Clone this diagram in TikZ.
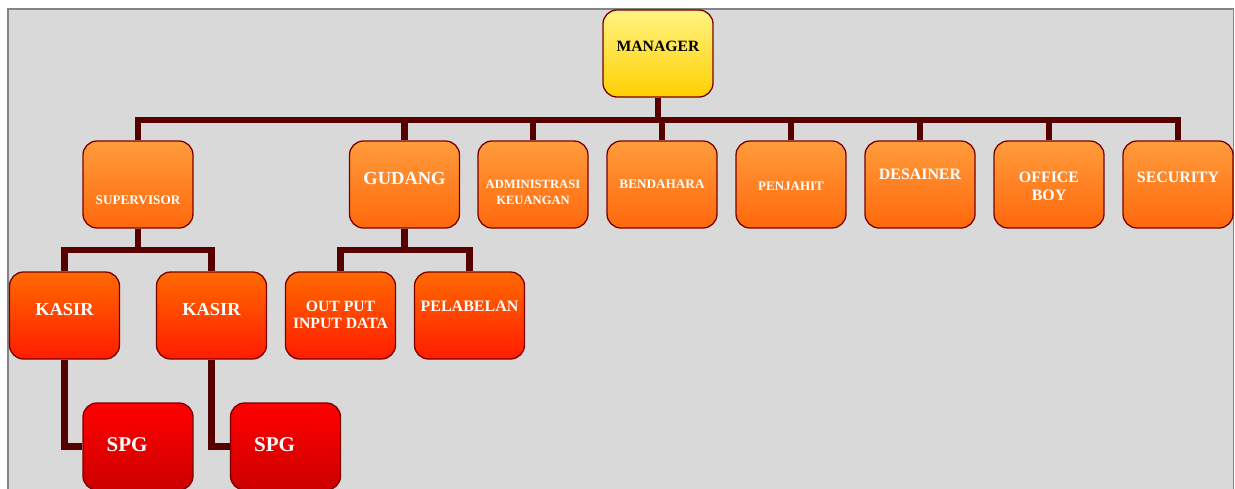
\documentclass[tikz,border=0pt]{standalone}
\usepackage{fontspec}
\setmainfont{Liberation Serif}

\definecolor{pageGray}{HTML}{D9D9D9}
\definecolor{frameGray}{HTML}{858585}
\definecolor{rimRed}{HTML}{7A0000}
\definecolor{linkRed}{HTML}{560000}
\definecolor{mgrTop}{HTML}{FFF383}
\definecolor{mgrBot}{HTML}{FFD000}
\definecolor{divTop}{HTML}{FF9C3C}
\definecolor{divBot}{HTML}{FF680C}
\definecolor{subTop}{HTML}{FF6A00}
\definecolor{subBot}{HTML}{FF1C00}
\definecolor{spgTop}{HTML}{FF0000}
\definecolor{spgBot}{HTML}{CC0000}

\newcommand{\txtsz}[2]{\fontsize{#1}{#2}\selectfont\bfseries}

\tikzset{
  unit/.style={draw=rimRed, line width=1.3pt, rounded corners=14pt,
    minimum width=110pt, minimum height=87pt, inner sep=0pt},
  mgrbox/.style={unit, top color=mgrTop, bottom color=mgrBot},
  divbox/.style={unit, top color=divTop, bottom color=divBot},
  subbox/.style={unit, top color=subTop, bottom color=subBot},
  spgbox/.style={unit, top color=spgTop, bottom color=spgBot},
  lbl/.style={text=white, align=center, inner sep=0pt},
  link/.style={draw=linkRed, line width=6.5pt},
}

\begin{document}
\begin{tikzpicture}[x=1pt,y=-1pt]
  \useasboundingbox (0,0) rectangle (1235,488);
  \draw[fill=pageGray, draw=frameGray, line width=1.5pt] (8,9) rectangle (1233.5,492);

  % boxes
  \node[mgrbox] (mgr) at (658,53.5) {};
  \node[divbox] (sup) at (138,184.5) {};
  \node[divbox] (gud) at (404.5,184.5) {};
  \node[divbox] (adm) at (533,184.5) {};
  \node[divbox] (ben) at (662,184.5) {};
  \node[divbox] (pen) at (791,184.5) {};
  \node[divbox] (des) at (920,184.5) {};
  \node[divbox] (off) at (1049,184.5) {};
  \node[divbox] (sec) at (1178,184.5) {};
  \node[subbox] (kasA) at (64.5,315.5) {};
  \node[subbox] (kasB) at (211.5,315.5) {};
  \node[subbox] (out) at (340.5,315.5) {};
  \node[subbox] (pel) at (469.5,315.5) {};
  \node[spgbox] (spgA) at (138,446.5) {};
  \node[spgbox] (spgB) at (285.5,446.5) {};

  % connectors
  \coordinate (bus) at (658,120);
  \coordinate (supBus) at (138,250);
  \coordinate (gudBus) at (404.5,250);
  \draw[link] (mgr.south) -- (bus);
  \draw[link] (sup.north) |- (bus) -| (sec.north);
  \foreach \n in {gud,adm,ben,pen,des,off}
    \draw[link] (\n.north) -- (\n.north |- bus);
  \draw[link] (sup.south) -- (supBus);
  \draw[link] (kasA.north) |- (supBus) -| (kasB.north);
  \draw[link] (gud.south) -- (gudBus);
  \draw[link] (out.north) |- (gudBus) -| (pel.north);
  \draw[link] (kasA.south) |- (spgA.west);
  \draw[link] (kasB.south) |- (spgB.west);

  % labels
  \node[lbl, text=black, font=\txtsz{15.7}{18}] (mgrT) at ([yshift=7pt]mgr.center) {MANAGER};
  \node[lbl, font=\txtsz{13.2}{15}] (supT) at ([yshift=-16pt]sup.center) {SUPERVISOR};
  \node[lbl, font=\txtsz{18.5}{20}] (gudT) at ([yshift=6pt]gud.center) {GUDANG};
  \node[lbl, font=\txtsz{12.6}{15.5}] (admT) at ([yshift=-8pt]adm.center) {ADMINISTRASI\\KEUANGAN};
  \node[lbl, font=\txtsz{13.2}{15}] (benT) at (ben.center) {BENDAHARA};
  \node[lbl, font=\txtsz{13}{15}] (penT) at ([yshift=-1.5pt]pen.center) {PENJAHIT};
  \node[lbl, font=\txtsz{15.9}{18}] (desT) at ([yshift=10.5pt]des.center) {DESAINER};
  \node[lbl, font=\txtsz{15.9}{18}] (offT) at ([yshift=-2pt]off.center) {OFFICE\\BOY};
  \node[lbl, font=\txtsz{15.9}{18}] (secT) at ([yshift=7pt]sec.center) {SECURITY};
  \node[lbl, font=\txtsz{18.4}{20}] (kasAT) at ([yshift=6pt]kasA.center) {KASIR};
  \node[lbl, font=\txtsz{18.4}{20}] (kasBT) at ([yshift=6pt]kasB.center) {KASIR};
  \node[lbl, font=\txtsz{15.7}{17.5}] (outT) at ([yshift=0.75pt]out.center) {OUT PUT\\INPUT DATA};
  \node[lbl, font=\txtsz{16}{18}] (pelT) at ([yshift=9.5pt]pel.center) {PELABELAN};
  \node[lbl, font=\txtsz{21}{22}] (spgAT) at ([xshift=-11pt,yshift=2pt]spgA.center) {SPG};
  \node[lbl, font=\txtsz{21}{22}] (spgBT) at ([xshift=-11pt,yshift=2pt]spgB.center) {SPG};
\end{tikzpicture}
\end{document}
